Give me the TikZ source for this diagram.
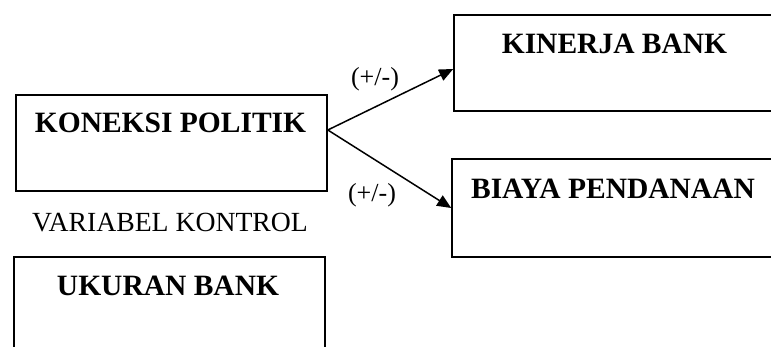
\documentclass[tikz,border=0pt]{standalone}
\usepackage{fontspec}
\setmainfont{Liberation Serif}
\usetikzlibrary{arrows.meta}
\begin{document}
\begin{tikzpicture}[x=1pt,y=-1pt,
  box/.style={draw=black,line width=1.6pt,minimum width=#1,inner sep=0pt},
  boxtitle/.style={anchor=base,inner sep=0pt,font=\fontsize{29.5}{33}\selectfont\bfseries},
  plain/.style={anchor=base,inner sep=0pt,font=\fontsize{27.7}{31}\selectfont},
  sign/.style={anchor=base,inner sep=0pt,font=\fontsize{26}{29}\selectfont},
  arr/.style={line width=1.5pt,-{Triangle[length=14pt,width=12pt]}}]
\useasboundingbox (0,0) rectangle (771,347);
\begin{scope}
\clip (0,0) rectangle (771,347);
\node[box=311pt,minimum height=96pt] (kp) at (171.5,143) {};
\node[box=346pt,minimum height=96pt] (kin) at (627,63) {};
\node[box=348pt,minimum height=98pt] (bp) at (626,208) {};
\node[box=311pt,minimum height=143pt] (ub) at (169.5,328.5) {};
\node[boxtitle] (kpt) at (170.5,133) {KONEKSI POLITIK};
\node[boxtitle] (kint) at (614.5,54) {KINERJA BANK};
\node[boxtitle] (bpt) at (613,199) {BIAYA PENDANAAN};
\node[boxtitle] (ubt) at (168,296) {UKURAN BANK};
\node[plain] (vk) at (170,232) {VARIABEL KONTROL};
\node[sign] (s1) at (375,86) {(+/-)};
\node[sign] (s2) at (372,202) {(+/-)};
\draw[arr] ([yshift=13pt]kp.east) -- ([yshift=-6pt]kin.west);
\draw[arr] ([yshift=13pt]kp.east) -- (bp.west);
\end{scope}
\end{tikzpicture}
\end{document}
